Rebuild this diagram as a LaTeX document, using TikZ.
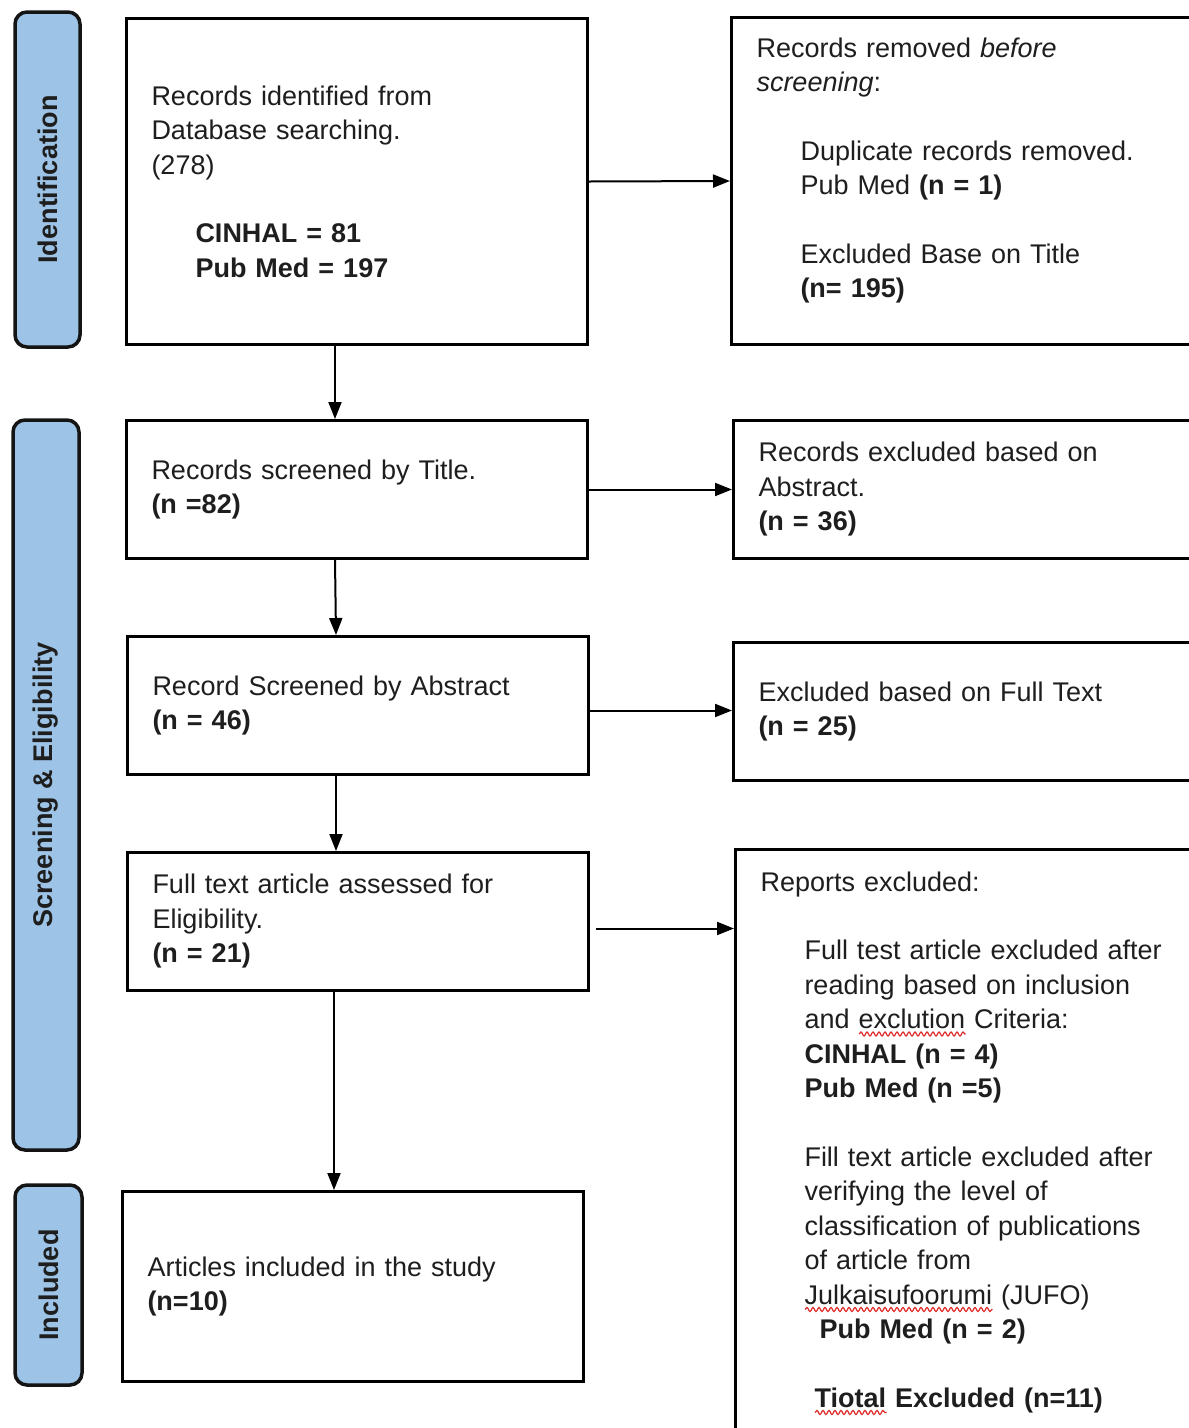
\documentclass[tikz,border=0pt]{standalone}
\usepackage{fontspec}
\setmainfont{Liberation Sans}
\usepackage{tikz}
\usetikzlibrary{arrows.meta,decorations.pathmorphing}
\definecolor{phasebg}{HTML}{9DC3E6}
\definecolor{edge}{HTML}{141414}
\definecolor{ink}{HTML}{1E1E1E}
\definecolor{spell}{HTML}{E02828}
\newsavebox\wavebox
\newlength\wavelen
\newcommand\spellwave[1]{\sbox\wavebox{#1}\setlength\wavelen{\wd\wavebox}%
  \rlap{\tikz[baseline=0pt]\draw[spell, line width=1.2pt, decorate,
    decoration={snake, amplitude=2pt, segment length=6pt}] (0pt,-5pt) -- (\wavelen,-5pt);}\usebox\wavebox}
\newcommand\ind[1][44pt]{\hspace*{#1}}
\tikzset{
  phase/.style={draw=edge, fill=phasebg, line width=3.5pt, rounded corners=12pt, rotate=90,
    inner sep=0pt, text=ink, font=\fontsize{27}{30}\selectfont\bfseries},
  box/.style={draw=black, fill=white, line width=3pt, anchor=north west, inner xsep=25pt,
    inner ysep=0pt, align=left, text=ink, font=\fontsize{27}{34.5}\selectfont},
  lbox/.style={box, minimum width=461pt, text width=411pt},
  rbox/.style={box, minimum width=490pt, text width=440pt},
  flow/.style={draw=black, line width=2pt, -{Triangle[length=17pt, width=13pt]}},
}

\begin{document}
\begin{tikzpicture}[x=1pt,y=-1pt]
  \useasboundingbox[fill=white] (0,0) rectangle (1189,1428);
  \clip (0,0) rectangle (1189,1428);
  \node[phase, minimum width=335pt, minimum height=65pt] (pid) at (47.5,179.5) {Identification};
  \node[phase, minimum width=730pt, minimum height=66pt] (pscr) at (46,785) {Screening \& Eligibility};
  \node[phase, minimum width=200pt, minimum height=67pt] (pinc) at (48.5,1285) {Included};

  \node[lbox, minimum height=326pt] (rec) at (125,17) {Records identified from\\ Database searching.\\ (278)\\[34pt]
    \ind\textbf{CINHAL = 81}\\ \ind\textbf{Pub Med = 197}};
  \node[lbox, minimum height=138pt] (titl) at (125,419) {Records screened by Title.\\ \textbf{(n =82)}};
  \node[lbox, minimum height=138pt] (abst) at (126,635) {Record Screened by Abstract\\ \textbf{(n = 46)}};
  \node[lbox, minimum height=138pt] (full) at (126,851) {Full text article assessed for\\ Eligibility.\\ \textbf{(n = 21)}};
  \node[lbox, minimum height=190pt] (incl) at (121,1190) {Articles included in the study\\ \textbf{(n=10)}};

  \node[rbox, minimum height=327pt] (removed) at (730,16) {Records removed \textit{before}\\ \textit{screening}:\\[34pt]
    \ind Duplicate records removed.\\ \ind Pub Med \textbf{(n = 1)}\\[34pt]
    \ind Excluded Base on Title\\ \ind\textbf{(n= 195)}\\[-8pt]\mbox{}};
  \node[rbox, minimum height=138pt] (exabs) at (732,419) {Records excluded based on\\ Abstract.\\ \textbf{(n = 36)}};
  \node[rbox, minimum height=138pt] (exfull) at (732,641) {Excluded based on Full Text\\ \textbf{(n = 25)}};
  \node[rbox, minimum height=588pt] (rep) at (734,848) {Reports excluded:\\[34pt]
    \ind Full test article excluded after\\ \ind reading based on inclusion\\
    \ind and \spellwave{exclution} Criteria:\\ \ind\textbf{CINHAL (n = 4)}\\ \ind\textbf{Pub Med (n =5)}\\[34pt]
    \ind Fill text article excluded after\\ \ind verifying the level of\\ \ind classification of publications\\
    \ind of article from\\ \ind\spellwave{Julkaisufoorumi} (JUFO)\\ \ind[59pt]\textbf{Pub Med (n = 2)}\\[34pt]
    \ind[54pt]\textbf{\spellwave{Tiotal} Excluded (n=11)}};

  \draw[flow] ([xshift=-22pt]rec.south) -- ([xshift=-22pt]titl.north);
  \draw[flow] ([xshift=-22pt]titl.south) -- ([xshift=-22pt]abst.north);
  \draw[flow] ([xshift=-22pt]abst.south) -- ([xshift=-22pt]full.north);
  \draw[flow] ([xshift=-24pt]full.south) -- ([xshift=-24pt]full.south |- incl.north);
  \draw[flow] (rec.east) -- (removed.west);
  \draw[flow] (titl.east) -- (titl.east -| exabs.west);
  \draw[flow] ([yshift=-5pt]abst.east) -- ([yshift=-5pt]abst.east -| exfull.west);
  \draw[flow] ([xshift=6pt,yshift=-7pt]full.east) -- ([yshift=-7pt]full.east -| rep.west);
\end{tikzpicture}
\end{document}
